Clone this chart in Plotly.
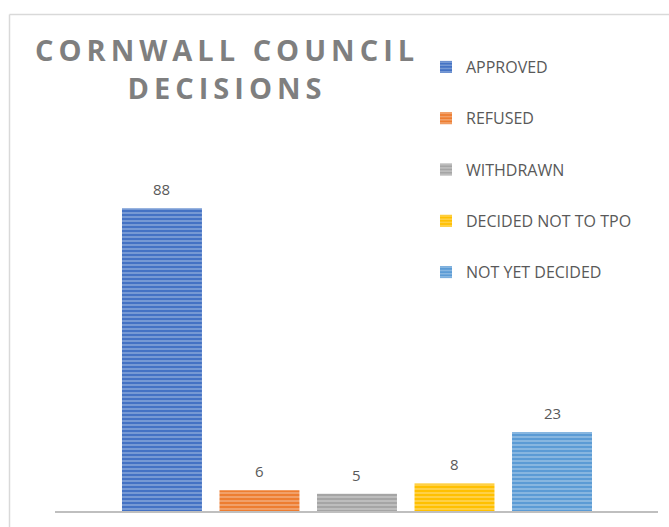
import plotly.graph_objects as go

categories = ["APPROVED", "REFUSED", "WITHDRAWN", "DECIDED NOT TO TPO", "NOT YET DECIDED"]
values = [88, 6, 5, 8, 23]
colors = ["#4472C4", "#ED7D31", "#A5A5A5", "#FFC000", "#5B9BD5"]
stripe_colors = ["#B4C7E7", "#F8CBAD", "#D9D9D9", "#FFE699", "#BDD7EE"]
title_lines = ["CORNWALL COUNCIL", "DECISIONS"]

W, H = 669, 527
PW, PH = W - 66, H - 183

fig = go.Figure()
for i, (cat, v, c, sc) in enumerate(zip(categories, values, colors, stripe_colors)):
    fig.add_trace(go.Bar(
        x=[i], y=[v], name=cat, width=0.82,
        marker=dict(color=c, line=dict(width=0),
                    pattern=dict(shape="-", fgcolor=sc, bgcolor=c, size=4, solidity=0.45)),
        legendgroup=cat,
    ))
    fig.add_annotation(x=i, y=v, text=str(v), showarrow=False, yanchor="bottom",
                       yshift=7, font=dict(family="Open Sans", size=15, color="#595959"))

title_html = "<br>".join(title_lines)
fig.add_annotation(xref="paper", yref="paper", x=(226.5 - 55) / PW, y=1 + (167 - 28) / PH,
                   text="<b>" + title_html + "</b>", showarrow=False, xanchor="center", yanchor="top",
                   align="center", name="charttitle",
                   font=dict(family="Open Sans", size=29, color="#7F7F7F"))

# chart border
ytop = 1 + (167 - 14.5) / PH
xleft = (9.5 - 55) / PW
fig.add_shape(type="line", xref="paper", yref="paper", x0=xleft, x1=(W + 5 - 55) / PW,
              y0=ytop, y1=ytop, line=dict(color="#D9D9D9", width=1.5))
fig.add_shape(type="line", xref="paper", yref="paper", x0=xleft, x1=xleft,
              y0=ytop, y1=-0.2, line=dict(color="#D9D9D9", width=1.5))

fig.update_layout(
    width=W, height=H, autosize=False,
    margin=dict(l=55, r=11, t=167, b=16),
    paper_bgcolor="white", plot_bgcolor="white",
    barmode="overlay",
    showlegend=True,
    legend=dict(x=(426 - 55) / PW, y=1 + (167 - 50) / PH, xanchor="left", yanchor="top",
                traceorder="grouped", tracegroupgap=27.5,
                font=dict(family="Open Sans", size=16, color="#595959"), bgcolor="rgba(0,0,0,0)"),
    xaxis=dict(range=[-1.097, 5.087], showticklabels=False, showgrid=False, zeroline=False,
               showline=True, linecolor="#BFBFBF", linewidth=2, ticks=""),
    yaxis=dict(range=[0, 100], visible=False, showgrid=False, zeroline=False),
)

post = """
document.body.style.margin='0';
document.querySelectorAll('.annotation-text').forEach(function(t){
  if (t.textContent.indexOf('CORNWALL') >= 0) { t.style.letterSpacing = '5px'; }
});
"""
fig.write_html("out.html", config={"displayModeBar": False}, post_script=post)
